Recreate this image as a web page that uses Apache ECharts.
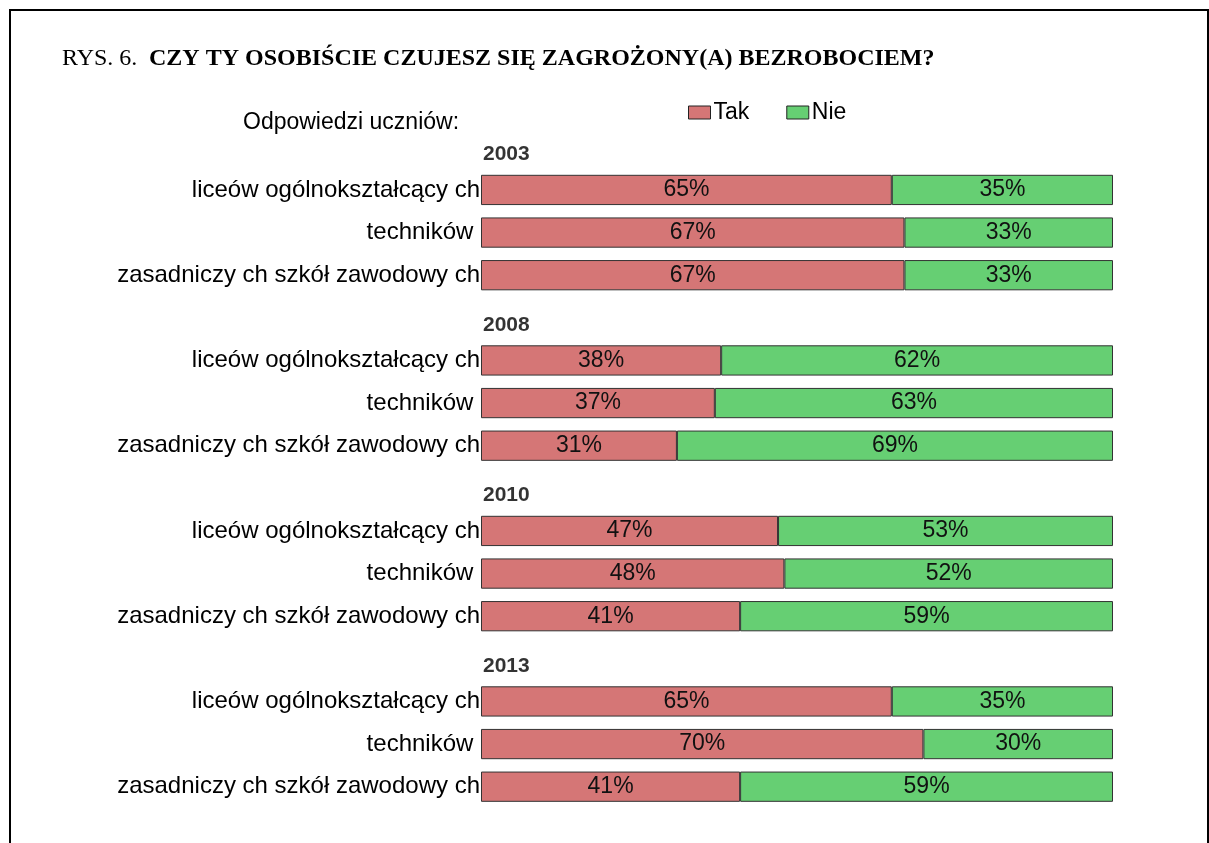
<!DOCTYPE html>
<html>
<head>
<meta charset="utf-8">
<script src="https://cdn.jsdelivr.net/npm/echarts@6/dist/echarts.min.js"></script>
<style>
  html, body { margin: 0; padding: 0; background: #fff; }
  #main { width: 1209px; height: 843px; }
</style>
</head>
<body>
<div id="main"></div>
<script>
// dane z wykresu
const years = ['2003', '2008', '2010', '2013'];
const schools = ['liceów ogólnokształcący ch', 'techników ', 'zasadniczy ch szkół zawodowy ch'];
const takValues = [
  [65, 67, 67],
  [38, 37, 31],
  [47, 48, 41],
  [65, 70, 41]
];
const nieValues = [
  [35, 33, 33],
  [62, 63, 69],
  [53, 52, 59],
  [35, 30, 59]
];

// wiersze osi: rok (pusty wiersz z etykietą) + trzy typy szkół
const rowKeys = [];
const rowLabels = [];
const takData = [];
const nieData = [];
const yearPoints = [];
years.forEach(function (y, i) {
  rowKeys.push('y' + y);
  rowLabels.push('');
  takData.push('-');
  nieData.push('-');
  yearPoints.push({ value: [0, 'y' + y], name: y });
  schools.forEach(function (s, j) {
    rowKeys.push(y + '_' + j);
    rowLabels.push(s);
    takData.push(takValues[i][j]);
    nieData.push(nieValues[i][j]);
  });
});

const sans = '"Liberation Sans", Arial, sans-serif';
const serif = '"Liberation Serif", "Times New Roman", serif';

var myChart = echarts.init(document.getElementById('main'));
myChart.setOption({
  animation: false,
  title: {
    left: 57,
    top: 42,
    text: '{a|RYS. 6.}{b|CZY TY OSOBIŚCIE CZUJESZ SIĘ ZAGROŻONY(A) BEZROBOCIEM?}',
    textStyle: {
      fontWeight: 'normal',
      rich: {
        a: { fontFamily: serif, fontSize: 24, fontWeight: 'normal', color: '#000', width: 87 },
        b: { fontFamily: serif, fontSize: 24, fontWeight: 'bold', color: '#000' }
      }
    }
  },
  legend: {
    left: 683,
    top: 96,
    icon: 'rect',
    itemWidth: 22,
    itemHeight: 13,
    itemGap: 37,
    textStyle: { fontFamily: sans, fontSize: 23, color: '#000', padding: [0, 0, 0, -2] },
    data: [
      { name: 'Tak', itemStyle: { borderColor: '#222', borderWidth: 1 } },
      { name: 'Nie', itemStyle: { borderColor: '#222', borderWidth: 1 } }
    ]
  },
  grid: { left: 481, right: 96, top: 126, bottom: 35, containLabel: false },
  xAxis: {
    type: 'value', min: 0, max: 100,
    show: false
  },
  yAxis: {
    type: 'category',
    inverse: true,
    data: rowKeys,
    axisLine: { show: false },
    axisTick: { show: false },
    axisLabel: {
      margin: 1,
      fontFamily: sans,
      fontSize: 24,
      color: '#000',
      formatter: function (v, idx) { return rowLabels[idx]; }
    }
  },
  graphic: [
    { type: 'rect', shape: { x: 9, y: 9, width: 1200, height: 2 }, style: { fill: '#000' } },
    { type: 'rect', shape: { x: 9, y: 9, width: 2, height: 834 }, style: { fill: '#000' } },
    { type: 'rect', shape: { x: 1207, y: 9, width: 2, height: 834 }, style: { fill: '#000' } },
    {
      type: 'text', left: 243, top: 111,
      style: { text: 'Odpowiedzi uczniów:', fontFamily: sans, fontSize: 23, fill: '#000' }
    }
  ],
  series: [
    {
      name: 'Tak', type: 'bar', stack: 'all',
      barCategoryGap: '29%',
      data: takData,
      itemStyle: { color: '#D57676', borderColor: '#333', borderWidth: 1 },
      label: {
        show: true, position: 'inside', formatter: '{c}%',
        fontFamily: sans, fontSize: 23, color: '#111'
      }
    },
    {
      name: 'Nie', type: 'bar', stack: 'all',
      barCategoryGap: '29%',
      data: nieData,
      itemStyle: { color: '#66CF73', borderColor: '#333', borderWidth: 1 },
      label: {
        show: true, position: 'inside', formatter: '{c}%',
        fontFamily: sans, fontSize: 23, color: '#111'
      }
    },
    {
      name: 'rok', type: 'scatter',
      symbolSize: 0,
      data: yearPoints,
      silent: true,
      label: {
        show: true, position: 'right', distance: 2, offset: [0, 7],
        formatter: '{b}',
        fontFamily: sans, fontSize: 21, fontWeight: 'bold', color: '#000'
      }
    }
  ]
});
</script>
</body>
</html>
